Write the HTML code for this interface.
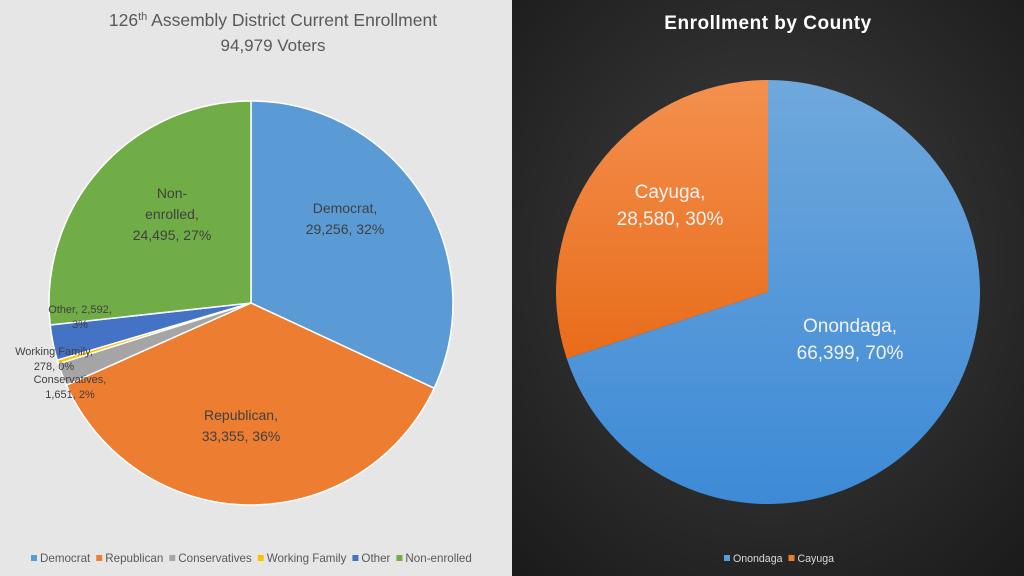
<!DOCTYPE html>
<html><head><meta charset="utf-8"><style>
body{margin:0;width:1024px;height:576px;overflow:hidden;font-family:"Liberation Sans",sans-serif}
svg{display:block}
</style></head><body>
<svg id="s" width="1024" height="576" xmlns="http://www.w3.org/2000/svg">
<defs>
<radialGradient id="dk" cx="50%" cy="45%" r="75%">
<stop offset="0" stop-color="#404040"/><stop offset="1" stop-color="#1a1a1a"/></radialGradient>
<linearGradient id="bl" x1="0" y1="0" x2="0" y2="1"><stop offset="0" stop-color="#6fa8dc"/><stop offset="1" stop-color="#3d8ad6"/></linearGradient>
<linearGradient id="or" x1="0" y1="0" x2="0" y2="1"><stop offset="0" stop-color="#f4904f"/><stop offset="1" stop-color="#e86c1a"/></linearGradient>
</defs>
<rect x="0" y="0" width="512" height="576" fill="#e7e6e6"/>
<rect x="512" y="0" width="512" height="576" fill="url(#dk)"/>
<text x="273" y="26" text-anchor="middle" font-size="17.5" fill="#595959">126<tspan font-size="11" dy="-6">th</tspan><tspan dy="6"> Assembly District Current Enrollment</tspan></text>
<text x="273" y="51" text-anchor="middle" font-size="17" fill="#595959">94,979 Voters</text>
<text x="768" y="29" text-anchor="middle" font-size="19" font-weight="bold" fill="#ffffff" letter-spacing="0.5">Enrollment by County</text>
<g id="lp"></g><g id="rp"></g><g id="lg"></g>
</svg>
<script>
const leftCats=["Democrat","Republican","Conservatives","Working Family","Other","Non-enrolled"];
const leftVals=[29256,33355,1651,278,2592,24495];
const leftPcts=["32%","36%","2%","0%","3%","27%"];
const leftColors=["#5b9bd5","#ed7d31","#a5a5a5","#ffc000","#4472c4","#70ad47"];
const rightCats=["Onondaga","Cayuga"];
const rightVals=[66399,28580];
const rightPcts=["70%","30%"];
const rightColors=["url(#bl)","url(#or)"];
const NS="http://www.w3.org/2000/svg";
function fmt(v){return v.toLocaleString("en-US");}
function pie(g,cx,cy,r,vals,colors,stroke,names){
  const tot=vals.reduce((a,b)=>a+b,0);let a=0;const mids=[];
  vals.forEach((v,i)=>{
    const a0=a,a1=a+v/tot*2*Math.PI;a=a1;
    const x0=cx+r*Math.sin(a0),y0=cy-r*Math.cos(a0),x1=cx+r*Math.sin(a1),y1=cy-r*Math.cos(a1);
    const p=document.createElementNS(NS,"path");
    p.setAttribute("d",`M${cx},${cy}L${x0},${y0}A${r},${r} 0 ${a1-a0>Math.PI?1:0} 1 ${x1},${y1}Z`);
    p.setAttribute("fill",colors[i]);
    if(stroke){p.setAttribute("stroke",stroke);p.setAttribute("stroke-width","1.5");}
    
    
    g.appendChild(p);mids.push((a0+a1)/2);
  });return mids;
}
function txt(g,x,y,s,size,fill,anchor,name){
  const t=document.createElementNS(NS,"text");t.setAttribute("x",x);t.setAttribute("y",y);
  t.setAttribute("font-size",size);t.setAttribute("fill",fill);t.setAttribute("text-anchor",anchor||"middle");
  t.textContent=s;
  
  
  g.appendChild(t);
}
const lp=document.getElementById("lp");
pie(lp,251,303,202,leftVals,leftColors,"#ffffff",leftCats.map(c=>"slice-"+c.toLowerCase().replace(/ /g,"-")));
const L=(i,lines,x,y,sz)=>lines.forEach((l,k)=>txt(lp,x,y+k*21,l,sz,"#404040","middle","label-"+leftCats[i].toLowerCase().replace(/ /g,"-")));
L(0,["Democrat,",fmt(leftVals[0])+", "+leftPcts[0]],345,213,14);
L(1,["Republican,",fmt(leftVals[1])+", "+leftPcts[1]],241,420,14);
L(5,["Non-","enrolled,",fmt(leftVals[5])+", "+leftPcts[5]],172,198,14);
const S=(i,lines,x,y)=>lines.forEach((l,k)=>txt(lp,x,y+k*15,l,11,"#404040","middle","label-"+leftCats[i].toLowerCase().replace(/ /g,"-")));
S(4,["Other, "+fmt(leftVals[4])+",",leftPcts[4]],80,313);
S(3,["Working Family,",fmt(leftVals[3])+", "+leftPcts[3]],54,355);
S(2,["Conservatives,",fmt(leftVals[2])+", "+leftPcts[2]],70,383);
const rp=document.getElementById("rp");
pie(rp,768,292,212,rightVals,rightColors,null,rightCats.map(c=>"slice-"+c.toLowerCase()));
[[0,850,332],[1,670,198]].forEach(([i,x,y])=>{
  txt(rp,x,y,rightCats[i]+",",19,"#f2f2f2","middle","label-"+rightCats[i].toLowerCase());
  txt(rp,x,y+27,fmt(rightVals[i])+", "+rightPcts[i],19,"#f2f2f2","middle","label-"+rightCats[i].toLowerCase());
});
const lg=document.getElementById("lg");
function legend(cats,colors,startX,y,fill,sz){
  let x=startX;
  cats.forEach((c,i)=>{
    const r=document.createElementNS(NS,"rect");r.setAttribute("x",x);r.setAttribute("y",y-7);r.setAttribute("width",6);r.setAttribute("height",6);r.setAttribute("fill",colors[i]);
    
    
    lg.appendChild(r);
    const t=document.createElementNS(NS,"text");t.setAttribute("x",x+9);t.setAttribute("y",y);t.setAttribute("font-size",sz);t.setAttribute("fill",fill);t.textContent=c;
    
    
    lg.appendChild(t);
    x+=9+t.getComputedTextLength()+6;
  });
}
legend(leftCats,leftColors,31,562,"#595959",11.6);
legend(rightCats,["#5b9bd5","#ed7d31"],724,562,"#d9d9d9",10.6);
</script>
</body></html>
